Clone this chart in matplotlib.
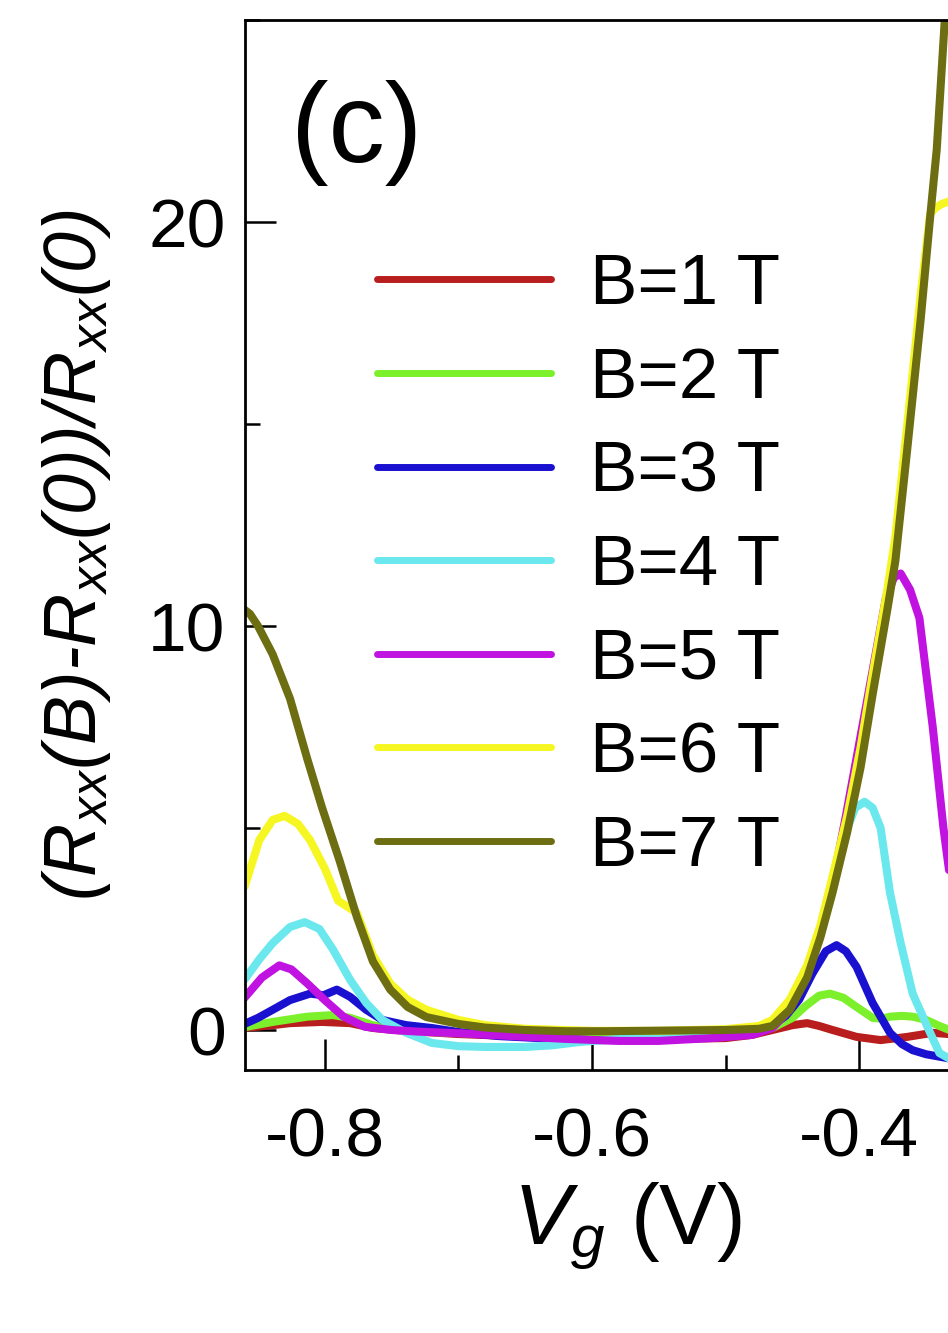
import matplotlib
matplotlib.use('Agg')
import matplotlib.pyplot as plt
from matplotlib.ticker import MultipleLocator

plt.rcParams['font.family'] = ['Liberation Sans', 'DejaVu Sans']
plt.rcParams['mathtext.fontset'] = 'custom'
plt.rcParams['mathtext.it'] = 'Liberation Sans:italic'
plt.rcParams['mathtext.rm'] = 'Liberation Sans'

# ---- data ----
labels = ['B=1 T', 'B=2 T', 'B=3 T', 'B=4 T', 'B=5 T', 'B=6 T', 'B=7 T']
colors = ['#b81e1e', '#7cf02a', '#1a10d0', '#6ae8ee', '#c012e0', '#f6f622', '#6d6d12']

x1 = [-0.860, -0.839, -0.826, -0.802, -0.781, -0.764, -0.740, -0.700, -0.660, -0.620, -0.580,
      -0.540, -0.500, -0.480, -0.465, -0.450, -0.439, -0.430, -0.420, -0.402, -0.384, -0.364,
      -0.345, -0.325]
y1 = [0.05, 0.12, 0.17, 0.20, 0.17, 0.05, -0.02, -0.10, -0.15, -0.20, -0.22,
      -0.22, -0.20, -0.12, 0.00, 0.12, 0.17, 0.10, 0.00, -0.17, -0.25, -0.17,
      -0.07, -0.12]

x2 = [-0.860, -0.839, -0.813, -0.794, -0.781, -0.764, -0.744, -0.720, -0.680, -0.640, -0.600,
      -0.560, -0.520, -0.490, -0.465, -0.450, -0.440, -0.430, -0.422, -0.412, -0.402, -0.390,
      -0.383, -0.377, -0.368, -0.360, -0.350, -0.340, -0.325]
y2 = [0.07, 0.20, 0.33, 0.37, 0.30, 0.12, 0.00, -0.05, -0.10, -0.15, -0.18,
      -0.18, -0.12, -0.05, 0.05, 0.30, 0.60, 0.85, 0.90, 0.80, 0.57, 0.30,
      0.28, 0.33, 0.35, 0.33, 0.25, 0.10, -0.10]

x3 = [-0.860, -0.850, -0.839, -0.826, -0.811, -0.801, -0.791, -0.781, -0.769, -0.757, -0.739,
      -0.720, -0.700, -0.670, -0.640, -0.600, -0.560, -0.520, -0.490, -0.470, -0.455, -0.445,
      -0.435, -0.425, -0.417, -0.410, -0.402, -0.390, -0.377, -0.368, -0.360, -0.350, -0.340,
      -0.325]
y3 = [0.15, 0.30, 0.50, 0.74, 0.90, 0.86, 1.00, 0.82, 0.50, 0.25, 0.12,
      0.05, -0.05, -0.15, -0.20, -0.25, -0.25, -0.20, -0.12, 0.00, 0.35, 0.75,
      1.40, 1.95, 2.10, 1.95, 1.56, 0.67, -0.07, -0.35, -0.50, -0.60, -0.66,
      -0.75]

x4 = [-0.860, -0.849, -0.839, -0.826, -0.815, -0.804, -0.794, -0.781, -0.769, -0.757, -0.739,
      -0.720, -0.700, -0.680, -0.650, -0.630, -0.610, -0.580, -0.550, -0.520, -0.490, -0.475,
      -0.465, -0.452, -0.439, -0.429, -0.420, -0.410, -0.403, -0.396, -0.390, -0.384, -0.377,
      -0.369, -0.360, -0.349, -0.340, -0.325]
y4 = [1.25, 1.75, 2.15, 2.55, 2.67, 2.50, 2.00, 1.24, 0.67, 0.25, -0.07,
      -0.32, -0.40, -0.42, -0.42, -0.38, -0.30, -0.22, -0.20, -0.15, -0.08, 0.00,
      0.15, 0.60, 1.40, 2.40, 3.50, 4.90, 5.50, 5.65, 5.50, 5.00, 3.40,
      2.15, 0.90, 0.08, -0.57, -0.85]

x5 = [-0.860, -0.847, -0.834, -0.825, -0.813, -0.800, -0.786, -0.770, -0.750, -0.730, -0.700,
      -0.660, -0.620, -0.580, -0.550, -0.510, -0.480, -0.465, -0.452, -0.440, -0.430, -0.420,
      -0.410, -0.400, -0.390, -0.380, -0.374, -0.369, -0.362, -0.355, -0.345, -0.337, -0.325]
y5 = [0.80, 1.30, 1.60, 1.50, 1.15, 0.74, 0.33, 0.08, 0.00, -0.04, -0.08,
      -0.15, -0.22, -0.27, -0.27, -0.20, -0.12, 0.05, 0.50, 1.30, 2.30, 3.60,
      5.30, 7.10, 8.90, 10.70, 11.20, 11.30, 10.90, 10.20, 7.50, 5.00, 2.00]

x6 = [-0.860, -0.849, -0.839, -0.830, -0.820, -0.811, -0.800, -0.790, -0.776, -0.764, -0.751,
      -0.738, -0.724, -0.700, -0.680, -0.650, -0.600, -0.550, -0.500, -0.475, -0.465, -0.452,
      -0.439, -0.429, -0.420, -0.409, -0.399, -0.390, -0.379, -0.373, -0.364, -0.354, -0.347,
      -0.343, -0.338, -0.325]
y6 = [3.55, 4.70, 5.20, 5.30, 5.10, 4.70, 4.00, 3.20, 2.90, 1.85, 1.15,
      0.75, 0.50, 0.25, 0.12, 0.03, -0.02, -0.02, 0.02, 0.10, 0.25, 0.75,
      1.60, 2.60, 3.80, 5.30, 7.00, 8.80, 10.90, 12.20, 15.00, 18.20, 20.20,
      20.35, 20.45, 20.60]

x7 = [-0.860, -0.856, -0.850, -0.839, -0.826, -0.813, -0.802, -0.789, -0.776, -0.764, -0.751,
      -0.738, -0.724, -0.700, -0.680, -0.650, -0.620, -0.590, -0.560, -0.530, -0.500, -0.475,
      -0.465, -0.452, -0.439, -0.429, -0.420, -0.409, -0.399, -0.390, -0.379, -0.373, -0.364,
      -0.354, -0.347, -0.342, -0.336, -0.330]
y7 = [10.40, 10.30, 10.00, 9.30, 8.20, 6.70, 5.50, 4.20, 2.80, 1.70, 1.00,
      0.57, 0.32, 0.15, 0.06, 0.00, -0.03, -0.03, -0.02, -0.01, 0.00, 0.03,
      0.10, 0.50, 1.30, 2.30, 3.40, 4.90, 6.50, 8.30, 10.40, 11.60, 14.40,
      17.60, 20.10, 21.80, 25.00, 26.50]

xs = [x1, x2, x3, x4, x5, x6, x7]
ys = [y1, y2, y3, y4, y5, y6, y7]

fig = plt.figure(figsize=(9.48, 13.33), dpi=100)
ax = fig.add_axes([245 / 948, 263 / 1333, 715 / 948, 1050 / 1333])

for x, y, c, lab in zip(xs, ys, colors, labels):
    ax.plot(x, y, color=c, lw=5.8, label=lab, solid_capstyle='round', solid_joinstyle='round')

ax.set_xlim(-0.8597, -0.3246)
ax.set_ylim(-0.99, 25.0)

ax.xaxis.set_major_locator(MultipleLocator(0.2))
ax.xaxis.set_minor_locator(MultipleLocator(0.1))
ax.yaxis.set_major_locator(MultipleLocator(10))
ax.yaxis.set_minor_locator(MultipleLocator(5))
ax.xaxis.set_major_formatter(plt.FuncFormatter(lambda v, p: '%.1f' % v))

ax.tick_params(which='both', direction='in', top=False, right=False, width=1.8, labelsize=50)
ax.tick_params(which='major', length=22)
ax.tick_params(which='minor', length=11)
ax.tick_params(axis='x', pad=26)
ax.tick_params(axis='y', pad=14)

for s in ax.spines.values():
    s.set_linewidth(2)
ax.spines['right'].set_visible(False)

ax.set_xlabel('$V_g$ (V)', fontsize=62)
ax.xaxis.set_label_coords(0.535, -0.105)
ax.set_ylabel('(R$_{xx}$(B)-R$_{xx}$(0))/R$_{xx}$(0)', fontsize=53, fontstyle='italic')
ax.yaxis.set_label_coords(-0.185, 0.49)

ax.text(0.064, 0.943, '(c)', transform=ax.transAxes, fontsize=81,
        va='top', ha='left')

leg = ax.legend(loc='upper left', bbox_to_anchor=(0.185, 0.778), frameon=False,
                fontsize=51, handlelength=2.45, handletextpad=0.55, labelspacing=0.39,
                borderpad=0, borderaxespad=0)
for h in leg.get_lines():
    h.set_linewidth(5)

fig.savefig('out.png', dpi=100)
